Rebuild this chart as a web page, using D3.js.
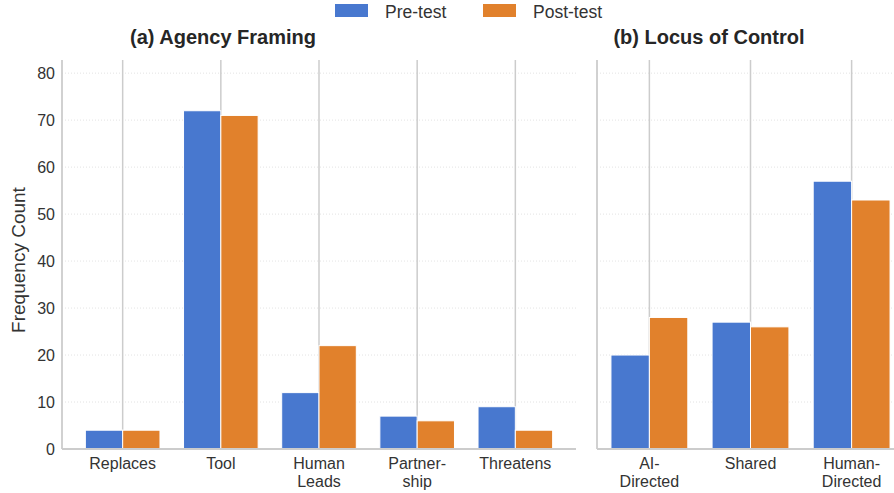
<!DOCTYPE html>
<html lang="en">
<head>
<meta charset="UTF-8"/>
<script src="https://d3js.org/d3.v7.min.js"></script>
<style>
  body { margin: 0; background: #fff; }
  svg { display: block; font-family: "Liberation Sans", Arial, sans-serif; }
</style>
</head>
<body>
<div id="chart"></div>
<script>
// chart data
var agencyCats = ["Replaces", "Tool", "Human\nLeads", "Partner-\nship", "Threatens"];
var agencyPre  = [4, 72, 12, 7, 9];
var agencyPost = [4, 71, 22, 6, 4];

var locusCats = ["AI-\nDirected", "Shared", "Human-\nDirected"];
var locusPre  = [20, 27, 57];
var locusPost = [28, 26, 53];

var seriesNames = ["Pre-test", "Post-test"];
var yTicks = [0, 10, 20, 30, 40, 50, 60, 70, 80];

var width = 894, height = 493;
var colors = ["#4878cf", "#e1812c"];
var barW = 0.38;

var svg = d3.select("#chart").append("svg")
  .attr("width", width)
  .attr("height", height);

var y = d3.scaleLinear().domain([0, 82.8]).range([449, 60]);

// draw one panel
function panel(cats, pre, post, x0, x1, title, titleX, showY) {
  var n = cats.length;
  var pad = (n - 1 + 2 * barW) * 0.05 + barW;
  var x = d3.scaleLinear().domain([-pad, n - 1 + pad]).range([x0, x1]);
  var g = svg.append("g");

  // horizontal dotted grid
  g.selectAll("line.hg").data(yTicks).enter().append("line")
    .attr("x1", x0).attr("x2", x1)
    .attr("y1", d => y(d)).attr("y2", d => y(d))
    .attr("stroke", "#dcdcdc").attr("stroke-width", 0.8)
    .attr("stroke-dasharray", "1,2");

  // vertical grid at categories
  g.selectAll("line.vg").data(cats).enter().append("line")
    .attr("x1", (d, i) => x(i)).attr("x2", (d, i) => x(i))
    .attr("y1", y(82.8)).attr("y2", y(0))
    .attr("stroke", "#cccccc").attr("stroke-width", 1.5);

  // bars
  [pre, post].forEach(function(vals, s) {
    g.selectAll("rect.s" + s).data(vals).enter().append("rect")
      .attr("x", (d, i) => x(i + (s === 0 ? -barW : 0)))
      .attr("y", d => y(d))
      .attr("width", x(barW) - x(0))
      .attr("height", d => y(0) - y(d))
      .attr("fill", colors[s])
      .attr("stroke", "#fff").attr("stroke-width", 1);
  });

  // spines
  g.append("line").attr("x1", x0).attr("x2", x0).attr("y1", 60).attr("y2", 449)
    .attr("stroke", "#cccccc").attr("stroke-width", 1.8);
  g.append("line").attr("x1", x0).attr("x2", x1).attr("y1", 449).attr("y2", 449)
    .attr("stroke", "#cccccc").attr("stroke-width", 1.8);

  // x tick labels
  cats.forEach(function(c, i) {
    var t = g.append("text").attr("x", x(i)).attr("y", 469)
      .attr("text-anchor", "middle").attr("font-size", 16).attr("fill", "#333");
    c.split("\n").forEach(function(line, k) {
      t.append("tspan").attr("x", x(i)).attr("dy", k === 0 ? 0 : 18).text(line);
    });
  });

  if (showY) {
    g.selectAll("text.yt").data(yTicks).enter().append("text")
      .attr("x", 55).attr("y", d => y(d) + 5.5)
      .attr("text-anchor", "end").attr("font-size", 16).attr("fill", "#333")
      .text(d => d);
  }

  svg.append("text").attr("x", titleX).attr("y", 44)
    .attr("text-anchor", "middle").attr("font-size", 20).attr("font-weight", "bold")
    .attr("fill", "#262626").text(title);
}

panel(agencyCats, agencyPre, agencyPost, 62, 576, "(a) Agency Framing", 223, true);
panel(locusCats, locusPre, locusPost, 597, 904, "(b) Locus of Control", 709, false);

// y label
svg.append("text")
  .attr("transform", "translate(25,260) rotate(-90)")
  .attr("text-anchor", "middle").attr("font-size", 19).attr("fill", "#333")
  .text("Frequency Count");

// legend
var legendX = [335, 483];
seriesNames.forEach(function(name, s) {
  svg.append("rect").attr("x", legendX[s]).attr("y", 4).attr("width", 33).attr("height", 13)
    .attr("fill", colors[s]);
  svg.append("text").attr("x", legendX[s] + 50).attr("y", 17.5)
    .attr("font-size", 17.5).attr("fill", "#333").text(name);
});
</script>
</body>
</html>
